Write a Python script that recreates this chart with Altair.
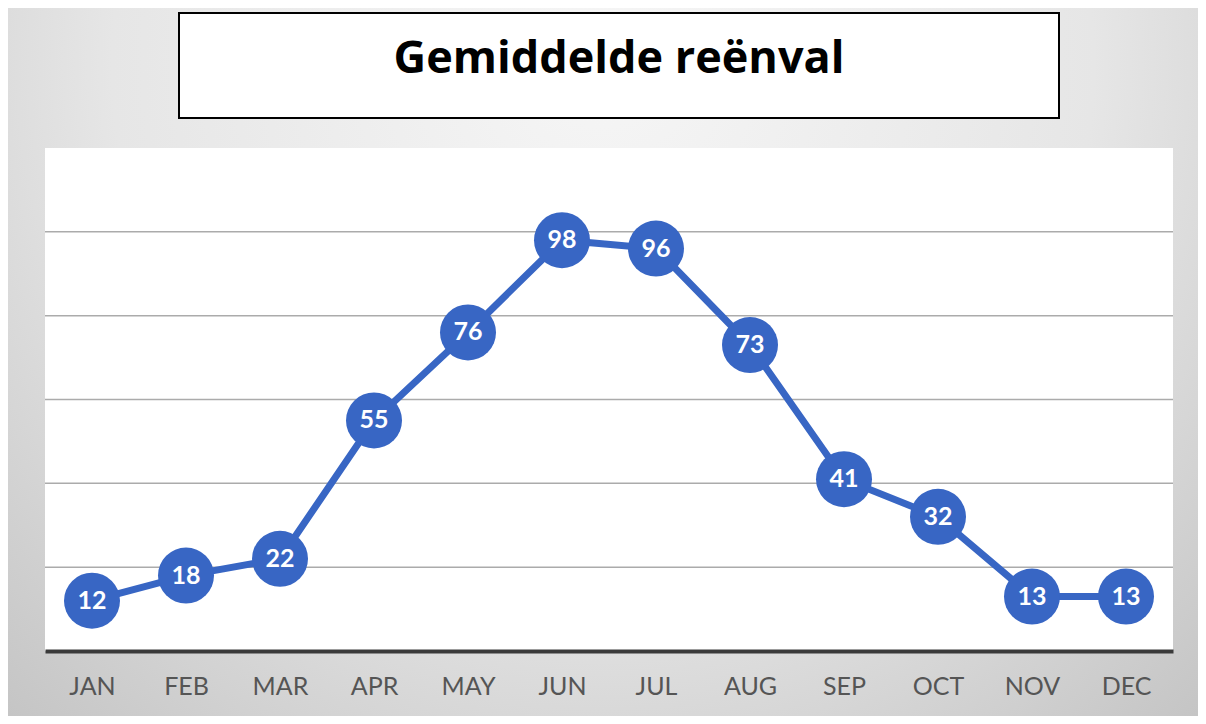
import altair as alt
import pandas as pd

months = ["JAN", "FEB", "MAR", "APR", "MAY", "JUN", "JUL", "AUG", "SEP", "OCT", "NOV", "DEC"]
rainfall = [12, 18, 22, 55, 76, 98, 96, 73, 41, 32, 13, 13]
grid_values = [20, 40, 60, 80, 100]
title_text = "Gemiddelde reënval"

W, H = 1128, 503
PAD_L, PAD_T, PAD_R, PAD_B = 37, 140, 25, 65
BLUE = "#3866C4"
FONT = "Lato"

df = pd.DataFrame({"month": months, "rain": rainfall})
grid_df = pd.DataFrame({"v": grid_values})
one = pd.DataFrame({"k": [0]})

yscale = alt.Scale(domain=[0, 120])
xenc = alt.X(
    "month:N",
    sort=months,
    scale=alt.Scale(type="point", padding=0.5),
    axis=alt.Axis(
        title=None,
        labelAngle=0,
        labelFont=FONT,
        labelFontSize=25,
        labelColor="#555555",
        labelPadding=35,
        labelBaseline="middle",
        ticks=False,
        grid=False,
        domainColor="#3a3a3a",
        domainWidth=4,
        zindex=1,
    ),
)
yenc = alt.Y("rain:Q", scale=yscale, axis=None)

bg = alt.Chart(one).mark_rect(
    fill=alt.RadialGradient(
        gradient="radial",
        stops=[
            alt.GradientStop(color="#f6f6f6", offset=0),
            alt.GradientStop(color="#e6e6e6", offset=0.55),
            alt.GradientStop(color="#c4c4c4", offset=1),
        ],
        x1=0.5, y1=0.25, x2=0.5, y2=0.25, r1=0, r2=0.75,
    )
).encode(
    x=alt.value(-PAD_L), x2=alt.value(W + PAD_R),
    y=alt.value(-PAD_T), y2=alt.value(H + PAD_B),
)

plot_bg = alt.Chart(one).mark_rect(fill="white").encode(
    x=alt.value(0), x2=alt.value(W), y=alt.value(0), y2=alt.value(H)
)

grid = alt.Chart(grid_df).mark_rule(color="#ababab", strokeWidth=1.5).encode(
    y=alt.Y("v:Q", scale=yscale, axis=None),
    x=alt.value(0), x2=alt.value(W),
)

line = alt.Chart(df).mark_line(color=BLUE, strokeWidth=7).encode(x=xenc, y=yenc)
pts = alt.Chart(df).mark_circle(size=3136, color=BLUE, opacity=1).encode(x=xenc, y=yenc)
labels = alt.Chart(df).mark_text(
    color="white", fontSize=25, fontWeight="bold", font=FONT, baseline="middle"
).encode(x=xenc, y=yenc, text="rain:Q")

title_box = alt.Chart(one).mark_rect(fill="white", stroke="black", strokeWidth=2).encode(
    x=alt.value(134), x2=alt.value(1014), y=alt.value(-135), y2=alt.value(-30)
)
title = alt.Chart(one).mark_text(
    text=title_text, fontSize=45, fontWeight="bold", font="Open Sans", color="black",
    baseline="alphabetic", align="center",
).encode(x=alt.value(574), y=alt.value(-75))

chart = alt.layer(bg, plot_bg, grid, line, pts, labels, title_box, title).properties(
    width=W, height=H,
    autosize=alt.AutoSizeParams(type="none"),
    padding={"left": PAD_L, "top": PAD_T, "right": PAD_R, "bottom": PAD_B},
).configure_view(stroke=None)

chart.save("out.html", embed_options={"renderer": "svg", "actions": False})
